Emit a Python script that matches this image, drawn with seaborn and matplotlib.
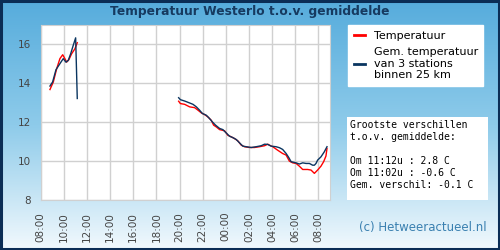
import numpy as np
import pandas as pd
import matplotlib
matplotlib.use("Agg")
import matplotlib.pyplot as plt
import seaborn as sns
from matplotlib.colors import LinearSegmentedColormap
from matplotlib.patches import Rectangle

# hours after 08:00 (day 1)
t_red_1 = [0.80, 1.09, 1.38, 1.66, 1.90, 2.09, 2.24, 2.44, 2.67, 2.96, 3.16]
temp_red_1 = [13.68, 14.07, 14.75, 15.27, 15.47, 15.27, 15.09, 15.22, 15.52, 15.78, 16.09]
t_avg_1 = [0.80, 1.03, 1.32, 1.66, 1.95, 2.18, 2.38, 2.59, 2.81, 3.02, 3.16]
temp_avg_1 = [13.86, 14.07, 14.70, 15.01, 15.27, 15.09, 15.18, 15.52, 15.95, 16.34, 13.22]

t_red_2 = [11.92, 12.07, 12.44, 12.87, 13.30, 13.59, 13.88, 14.17, 14.45, 14.74, 14.94, 15.17,
           15.46, 15.89, 16.17, 16.46, 16.75, 17.04, 17.33, 17.61, 18.04, 18.47, 18.90, 19.34,
           19.62, 19.77, 20.05, 20.48, 20.91, 21.21, 21.49, 21.78, 22.07, 22.35, 22.64, 23.07,
           23.36, 23.65, 23.93, 24.22, 24.45, 24.65, 24.74]
temp_red_2 = [13.08, 12.96, 12.92, 12.79, 12.75, 12.62, 12.48, 12.39, 12.27, 12.10, 11.85, 11.76,
              11.62, 11.56, 11.33, 11.25, 11.16, 11.04, 10.82, 10.74, 10.70, 10.70, 10.74, 10.79,
              10.87, 10.82, 10.74, 10.56, 10.39, 10.31, 10.00, 9.91, 9.88, 9.74, 9.57, 9.57,
              9.54, 9.37, 9.54, 9.74, 9.97, 10.26, 10.65]
t_avg_2 = [11.92, 12.07, 12.44, 12.87, 13.16, 13.45, 13.73, 13.97, 14.31, 14.59, 14.83, 15.11,
           15.46, 15.74, 16.03, 16.32, 16.60, 16.90, 17.18, 17.47, 17.76, 18.19, 18.62, 19.05,
           19.34, 19.62, 19.91, 20.34, 20.63, 20.91, 21.21, 21.43, 21.64, 22.07, 22.35, 22.64,
           22.93, 23.22, 23.50, 23.65, 23.79, 23.93, 24.22, 24.51, 24.74]
temp_avg_2 = [13.26, 13.16, 13.09, 12.99, 12.92, 12.79, 12.62, 12.45, 12.36, 12.19, 12.02, 11.85,
              11.68, 11.62, 11.45, 11.28, 11.21, 11.11, 10.94, 10.77, 10.74, 10.70, 10.74, 10.79,
              10.87, 10.86, 10.77, 10.74, 10.69, 10.60, 10.39, 10.19, 9.97, 9.91, 9.85, 9.91,
              9.88, 9.88, 9.79, 9.79, 9.88, 10.05, 10.22, 10.48, 10.74]

tick_hours = list(range(0, 25, 2))
tick_labels = ["08:00", "10:00", "12:00", "14:00", "16:00", "18:00", "20:00",
               "22:00", "00:00", "02:00", "04:00", "06:00", "08:00"]
y_ticks = [8, 10, 12, 14, 16]

lbl_red = "Temperatuur"
lbl_avg = "Gem. temperatuur\nvan 3 stations\nbinnen 25 km"

parts = []
for t, v, s, seg in [(t_red_1, temp_red_1, lbl_red, 1), (t_red_2, temp_red_2, lbl_red, 2),
                     (t_avg_1, temp_avg_1, lbl_avg, 1), (t_avg_2, temp_avg_2, lbl_avg, 2)]:
    parts.append(pd.DataFrame({"uur": t, "temp": v, "reeks": s, "deel": seg}))
df = pd.concat(parts, ignore_index=True)

fig = plt.figure(figsize=(5, 2.5), dpi=100)

# background gradient
bg = fig.add_axes([0, 0, 1, 1])
cmap = LinearSegmentedColormap.from_list("bg", ["#56acdc", "#8ecbea", "#f2f9fd"])
bg.imshow(np.linspace(0, 1, 256).reshape(-1, 1), aspect="auto", cmap=cmap,
          extent=[0, 1, 0, 1])
bg.set_xlim(0, 1)
bg.set_ylim(0, 1)
bg.axis("off")
bg.add_patch(Rectangle((0.002, 0.004), 0.996, 0.992, fill=False, edgecolor="#0b2d55",
                       lw=2.2, transform=bg.transAxes))
# white box for the stats
bg.add_patch(Rectangle((347 / 500, 1 - 200 / 250), 141 / 500, 83 / 250, facecolor="white",
                       edgecolor="none", transform=bg.transAxes))

ax = fig.add_axes([40.7 / 500, 0.2, (330 - 40.7) / 500, 0.7])
ax.set_facecolor("white")
sns.lineplot(data=df, x="uur", y="temp", hue="reeks", units="deel", estimator=None,
             palette={lbl_red: "#ff0000", lbl_avg: "#0a3560"}, lw=1.0, ax=ax,
             hue_order=[lbl_red, lbl_avg], sort=False)
ax.set_xlim(0, 25)
ax.set_ylim(8, 17)
ax.set_xticks(tick_hours)
ax.set_xticklabels(tick_labels, rotation=90, fontsize=7.5, color="#444444")
ax.set_yticks(y_ticks)
ax.set_yticklabels([str(v) for v in y_ticks], fontsize=7.5, color="#444444")
ax.tick_params(axis="x", length=0, pad=8.5)
ax.tick_params(axis="y", length=0, pad=7)
ax.grid(True, color="#d0d0d0", lw=1)
for sp in ax.spines.values():
    sp.set_color("#d0d0d0")
ax.set_xlabel("")
ax.set_ylabel("")

handles, labels = ax.get_legend_handles_labels()
ax.get_legend().remove()
leg = fig.legend(handles, labels, loc="upper left", bbox_to_anchor=(348 / 500, 1 - 25 / 250),
                 frameon=True, fancybox=False, edgecolor="white", facecolor="white",
                 framealpha=1, fontsize=8, handlelength=1.0, handletextpad=0.8,
                 borderpad=0.5, labelspacing=0.6, borderaxespad=0)
for lh in leg.get_lines():
    lh.set_linewidth(2)

fig.text(0.5, 1 - 12 / 250, "Temperatuur Westerlo t.o.v. gemiddelde", ha="center",
         va="center", fontsize=8.8, fontweight="bold", color="#163a60")
stats = ("Grootste verschillen\nt.o.v. gemiddelde:\n\n"
         "Om 11:12u : 2.8 C\nOm 11:02u : -0.6 C\nGem. verschil: -0.1 C")
fig.text(350 / 500, 1 - 120 / 250, stats, ha="left", va="top", fontsize=7,
         family="DejaVu Sans Mono", color="black", linespacing=1.25)
fig.text(487 / 500, 1 - 227 / 250, "(c) Hetweeractueel.nl", ha="right", va="center",
         fontsize=8.5, color="#3a80b0")

fig.savefig("out.png", dpi=100)
